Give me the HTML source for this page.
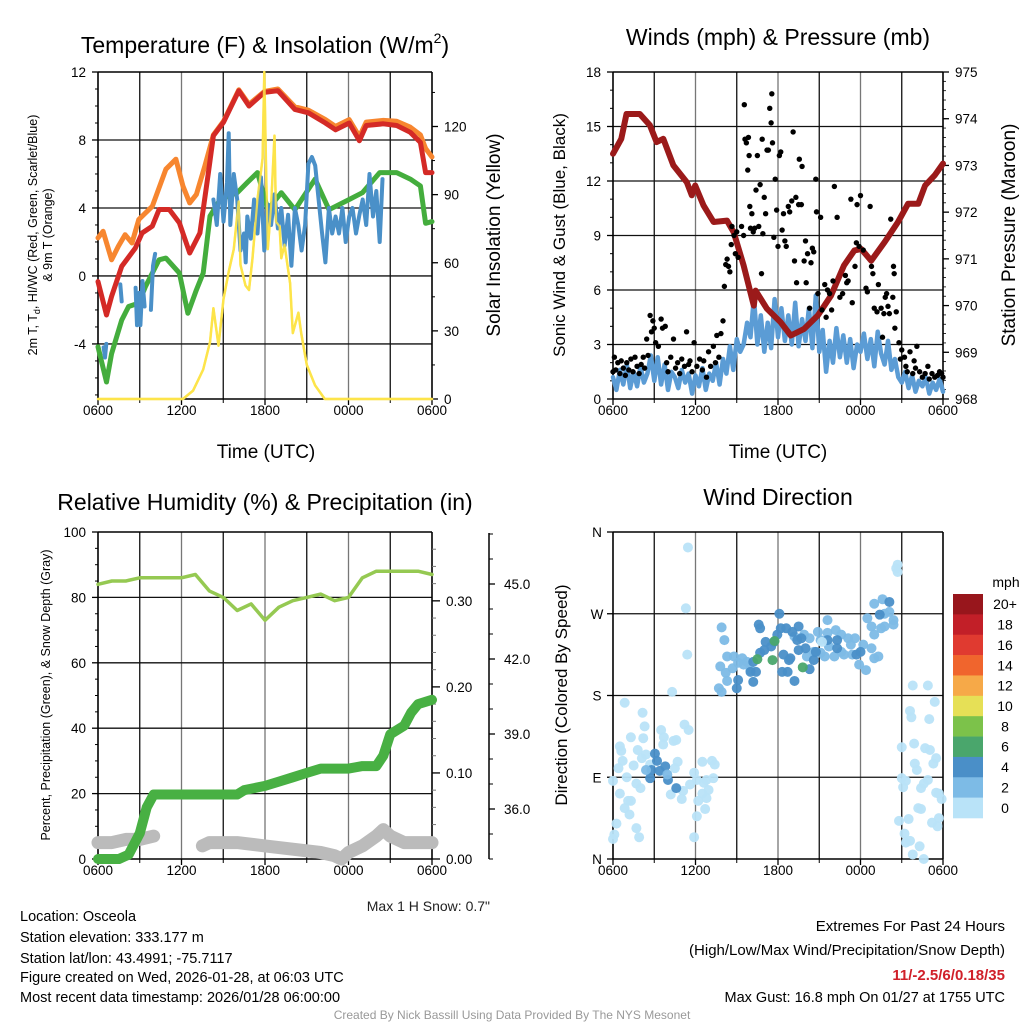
<!DOCTYPE html>
<html><head><meta charset="utf-8">
<style>
html,body{margin:0;padding:0;background:#fff;}
svg{display:block;font-family:"Liberation Sans",Arial,sans-serif;}
</style></head>
<body>
<svg id="c" width="1024" height="1024" viewBox="0 0 1024 1024" xmlns="http://www.w3.org/2000/svg"></svg>
<script>
// ---------- DATA ----------
const xTickLabels = ["0600","1200","1800","0000","0600"];
// Panel 1: temperature (F) vs hours since 0600
const redT = [0,0.61,0.98,1.7,2.68,3.17,3.9,4.39,5.12,5.85,6.59,7.32,7.93,8.29,9.02,10.12,10.85,11.95,12.93,14.15,15.12,16.34,17.07,18.05,18.78,19.27,20.5,21.46,22.44,23.17,23.54,24];
const redV = [-0.33,-2.3,-1.2,0.56,1.64,2.53,2.93,3.91,3.91,3.12,1.35,2.53,6.08,8.25,9.04,10.9,10.0,10.8,10.9,9.8,9.6,9.0,8.6,9.0,7.96,8.85,8.95,8.85,8.45,7.86,6.08,6.08];
const orangeT = [0,0.37,0.98,1.46,1.95,2.44,2.93,3.9,4.88,5.6,6.1,6.59,7.07,7.68,8.29,9.02,10.12,10.85,11.95,12.93,14.15,15.12,16.34,17.07,18.05,18.78,19.27,20.5,21.46,22.44,23.17,23.54,24];
const orangeV = [2.24,2.63,0.95,1.74,2.43,1.94,3.32,4.1,6.28,6.87,5.3,4.3,4.8,6.48,8.3,9.1,10.95,10.1,10.85,11.0,9.95,9.75,9.2,8.8,9.2,8.2,9.05,9.15,9.1,8.75,8.3,7.5,7.0];
const greenT = [0,0.61,0.98,1.7,2.2,2.93,3.41,4.39,4.88,5.85,6.46,7.07,7.56,8.05,8.78,10,10.73,11.46,12.2,13.17,14.15,15.12,15.6,16.6,18.05,19.0,20.24,21.46,22.44,23.17,23.54,24];
const greenV = [-4.17,-6.24,-4.57,-2.6,-1.8,-1.6,-0.62,0.95,1.05,0.17,-2.2,-0.82,0.17,3.52,4.5,4.9,5.5,6.08,3.91,4.9,3.9,5.1,5.7,3.9,4.5,4.9,6.08,6.08,5.7,5.3,3.1,3.2];
const blueT = [0.4,0.5,0.6,null,1.6,1.7,null,2.7,2.8,2.95,3.05,3.2,3.35,null,3.8,3.95,4.1,null,8.29,8.54,8.78,9.02,9.27,9.39,9.51,9.76,10.0,10.24,10.49,10.61,10.73,10.98,11.22,11.46,11.71,11.83,11.95,12.2,12.44,12.68,12.93,13.17,13.41,13.66,13.9,14.15,14.39,14.63,14.88,15.12,15.37,15.61,15.85,16.1,16.34,16.59,16.83,17.07,17.32,17.56,17.8,18.05,18.29,18.54,18.78,19.02,19.27,19.51,19.76,20.0,20.24,20.44];
const blueV = [-4.2,-4.8,-4.0,null,-0.5,-1.5,null,-0.7,-2.9,-1.0,-2.9,-0.3,-1.8,null,-2.0,0.6,1.3,null,4.5,3.0,6.0,3.2,5.5,8.4,3.0,6.0,4.5,1.5,2.5,0.8,3.5,2.2,4.5,2.5,5.8,3.6,1.5,4.2,3.0,4.8,2.8,4.0,1.8,3.6,0.6,4.0,3.0,1.5,3.0,6.6,7.0,6.5,4.5,2.5,0.8,4.0,2.5,3.5,2.5,4.0,2.0,3.5,4.0,2.5,3.6,4.5,3.0,6.0,3.5,5.0,2.0,5.7];
const solarT = [0,6.1,6.83,7.56,8.05,8.29,8.66,9.02,9.39,9.76,10.1,10.24,10.6,10.85,11.1,11.46,11.83,11.95,12.07,12.2,12.44,12.68,12.8,13.05,13.17,13.4,13.8,14.0,14.4,14.6,15.0,15.6,16.3,24];
const solarV = [0,0,3.7,13,25,40,23.5,44,56,66,87,59,50,48,62,88,106,144,103,66,85,116,78,76,62,68,51,29,38,29,15,6,0,0];
// Panel 2: winds (mph) & pressure (mb)
const presT = [0,0.6,0.98,1.95,2.68,3.17,3.66,4.39,5.37,5.73,5.98,6.59,7.32,8.29,8.78,9.5,10.24,10.37,11.2,12.2,12.93,13.9,14.9,15.85,16.8,17.56,18.05,18.78,19.76,20.73,21.46,22.2,22.7,23.4,24];
const presV = [973.25,973.57,974.1,974.1,973.86,973.5,973.57,973.0,972.64,972.36,972.57,972.14,971.79,971.82,971.57,970.86,970.0,970.32,969.93,969.64,969.36,969.5,969.79,970.21,970.86,971.18,971.21,970.96,971.36,971.79,972.18,972.18,972.57,972.79,973.04];
const sonicV = [1.2,0.5,1.6,0.8,1.9,0.6,1.5,0.7,1.8,0.9,1.4,2.4,1.0,
 2.3,0.8,1.9,0.5,1.5,1.2,0.6,1.6,0.9,1.4,0.3,1.3,
 0.7,1.7,0.5,1.4,1.0,2.0,0.8,2.2,1.4,2.9,1.6,3.3,
 2.6,3.0,4.2,3.4,5.6,3.0,4.6,2.6,4.2,2.8,5.5,3.4,
 5.0,3.2,4.6,3.0,5.3,2.9,4.4,3.2,5.0,2.8,5.7,2.6,
 3.8,1.5,3.2,2.0,3.9,2.3,3.5,2.0,3.3,1.7,3.0,2.6,
 3.6,2.2,3.3,1.8,3.7,2.5,1.9,3.2,1.6,2.2,1.2,0.9,
 1.5,0.6,1.3,0.4,1.0,0.7,1.2,0.3,0.9,0.5,1.1,0.4];
const sonicStep = 0.25;
const gustT = [0,0.1,0.2,0.35,0.5,0.6,0.75,0.9,1.0,1.15,1.3,1.45,1.6,1.75,1.9,2.05,2.2,2.3,2.45,2.55,2.7,2.8,2.9,3.0,3.1,3.3,3.5,3.6,3.8,3.9,4.0,4.2,4.4,4.55,4.7,4.85,5.0,5.2,5.35,5.5,5.6,5.75,5.9,6.1,6.3,6.5,6.6,6.8,6.95,7.1,7.3,7.45,7.55,7.7,7.85,8.0,8.1,8.2,8.3,8.4,8.5,8.6,8.65,8.8,8.9,9.0,9.1,9.35,9.5,9.55,9.6,9.7,9.8,9.85,9.9,9.95,10.0,10.1,10.2,10.3,10.4,10.5,10.6,10.7,10.8,10.85,10.9,11.0,11.1,11.2,11.3,11.4,11.5,11.55,11.6,11.7,11.8,11.9,12.0,12.1,12.2,12.3,12.4,12.5,12.6,12.75,12.85,13.0,13.1,13.2,13.3,13.35,13.5,13.55,13.7,13.75,13.9,14.0,14.05,14.15,14.3,14.4,14.5,14.6,14.75,14.8,14.9,15.1,15.2,15.4,15.5,15.6,15.75,15.9,16.0,16.1,16.3,16.5,16.7,16.9,17.0,17.1,17.3,17.4,17.6,17.7,17.75,17.9,18.0,18.2,18.4,18.5,18.7,18.8,18.9,19.0,19.2,19.3,19.5,19.6,19.7,19.8,19.9,20.0,20.1,20.2,20.35,20.4,20.45,20.5,20.6,20.8,20.9,21.0,21.2,21.3,21.4,21.6,21.8,21.9,22.0,22.1,22.3,22.5,22.7,22.9,23.0,23.2,23.4,23.6,23.75,23.9,24.0];
const gustV = [1.5,2.3,1.6,2.0,1.4,2.1,1.7,1.3,2.0,1.6,2.2,1.5,2.3,1.8,1.4,1.9,2.3,1.7,3.3,2.4,4.6,3.7,4.3,3.9,3.1,2.9,4.4,3.9,4.0,2.0,1.5,2.3,3.3,1.7,2.0,1.4,2.2,1.8,3.7,1.9,2.1,1.5,3.1,1.8,2.2,1.6,2.1,1.2,2.6,1.8,2.9,2.0,3.5,2.3,3.6,4.3,6.2,7.4,7.7,7.3,7.0,8.5,9.5,9.0,8.0,9.2,7.8,9.5,9.0,16.2,14.3,14.1,12.6,14.4,13.4,10.6,9.4,10.2,9.2,9.4,11.5,13.4,9.5,11.8,6.9,14.3,9.1,11.1,10.2,13.7,13.7,16.0,15.2,16.8,14.1,8.9,12.1,10.4,8.4,13.4,13.6,9.3,10.2,8.7,8.4,10.6,10.3,10.9,14.7,7.6,11.1,6.4,10.7,13.2,10.7,12.8,7.6,8.7,6.4,8.0,5.0,7.5,8.3,8.1,12.1,10.3,5.8,10.0,4.9,6.3,4.5,6.0,5.8,4.9,6.5,11.7,10.0,5.6,5.8,6.8,6.4,6.5,11.0,5.3,7.3,8.6,10.7,8.4,11.2,8.2,6.1,5.9,10.6,7.3,6.9,5.0,4.8,6.3,5.0,3.4,4.7,5.6,5.8,5.1,4.7,9.9,5.6,7.3,6.9,3.9,4.8,3.1,2.2,2.7,2.3,1.8,1.5,2.6,1.4,2.1,1.7,2.9,1.5,1.2,1.4,1.8,1.1,1.4,1.2,1.3,1.5,1.4,1.2];
// Panel 3: RH, precip, snow depth
const rhV = [84,85,85,86,86,86,86,87,82,80,76,78,73,77,79,80,81,79,80,86,88,88,88,88,87];
const precipT = [0,1.5,2.2,3.0,3.5,4,10,10.5,12,13,14,15,16,18,19,20,20.5,21,22,22.5,23,24];
const precipV = [0,0,0.005,0.03,0.06,0.075,0.075,0.08,0.085,0.09,0.095,0.1,0.105,0.105,0.108,0.108,0.12,0.145,0.155,0.17,0.18,0.185];
const snowT = [0,1,2,3,4,null,7.5,8,10,12,14,16,17,17.5,18,19,20,20.5,21,22,23,24];
const snowV = [5,5,6,6,7,null,4,5,5,4,3,2,1,0,2,4,7,9,7,5,5,5];
// Panel 4: wind direction (deg) and speed (mph)
const dirH = [0.85,2.15,2.3,1.3,2.2,3.5,3.7,3.65,4.4,4.6,5.2,5.5,0.5,0.6,1.8,2.1,2.4,0.7,1.5,0.4,1.0,0,1.7,2.0,0.5,1.1,1.3,0.85,1.2,0.25,0.1,0,1.7,1.9,4.2,4.7,4.5,5.1,5.0,5.6,5.9,6.1,6.5,7.2,7.4,6.6,6.8,7.3,6.95,6.5,6.8,6.2,6.7,6.1,5.9,4.3,5.4,5.3,5.45,2.7,
 3.05,3.2,2.8,3.4,3.8,4.0,4.6,2.7,3.95,2.4,
 7.9,8.1,8.3,7.8,8.2,8.3,7.7,7.9,8.8,8.7,9.1,9.4,9.5,9.75,10.0,15.6,16.2,14.9,15.1,15.6,16.6,17.1,17.3,17.6,16.6,16.8,17.4,18.2,18.8,19.0,19.3,17.9,18.4,15.4,16.1,18.5,18.8,19.0,19.5,19.75,19.75,20.1,20.4,19.0,19.6,20.4,13.9,14.3,14.6,14.1,13.2,15.7,15.1,
 10.6,10.7,12.1,12.2,12.6,13.05,13.5,11.95,11.7,11.5,11.1,11.0,10.7,10.2,10.4,10.0,10.2,9.1,9.0,12.4,12.9,12.8,13.5,13.4,13.7,14.0,14.6,14.3,13.2,12.7,12.3,16.3,16.3,18.0,17.7,20.1,19.4,15.6,14.75,
 10.5,11.6,11.75,13.8,
 21.8,22.9,23.4,21.6,21.7,23.0,21.0,21.9,22.7,23.05,23.3,23.5,21.95,22.1,22.9,21.0,21.3,21.1,22.4,22.6,23.7,23.9,23.5,22.2,22.4,20.8,21.5,23.2,23.7,23.6,21.2,21.3,21.6,22.3,21.8,22.6,20.7,20.7,20.6,15.2];
const dirD = [172,161,146,134,133,142,134,126,130,131,148,142,124,119,120,111,115,108,103,100,90,86,83,78,72,64,64,56,49,39,27,22,34,24,71,107,100,75,66,82,95,87,107,108,104,84,87,89,76,72,67,64,55,47,24,184,225,276,343,104,
 116,108,98,97,102,87,78,89,93,98,
 255,241,223,212,205,196,188,184,223,210,216,221,214,217,208,263,252,250,241,249,247,243,236,243,228,225,225,236,232,221,223,214,208,223,223,265,256,247,254,256,270,272,263,281,286,258,247,243,228,223,245,234,227,
 258,254,270,254,254,250,256,247,239,234,239,230,227,217,206,206,195,197,188,225,221,219,230,241,243,232,219,209,196,206,206,241,232,228,225,283,269,241,228,
 220,219,240,211,
 191,191,173,163,156,154,123,127,122,120,105,111,105,98,87,89,86,79,78,83,72,66,73,56,55,42,44,40,45,36,28,18,20,14,5,0,324,316,320,239];
const dirS = [1,1,1,1,1,1,1,1,1,1,1,1,1,1,1,1,1,1,1,1,1,1,1,1,1,1,1,1,1,1,1,1,1,1,1,1,1,1,1,1,1,1,1,1,1,1,1,1,1,1,1,1,1,1,1,1,1,1,1,1,
 5,5,5,5,5,5,5,5,3,3,
 3,3,3,3,3,3,3,3,3,3,3,3,3,3,3,3,3,3,3,3,3,3,3,3,3,3,3,3,3,3,3,3,3,3,3,3,3,3,3,3,3,3,3,3,3,3,3,3,3,3,3,3,3,
 5,5,5,5,5,5,5,5,5,5,5,5,5,5,5,5,5,5,5,5,5,5,5,5,5,5,5,5,5,5,5,5,5,5,5,5,5,5,5,
 7,7,7,7,
 1,1,1,1,1,1,1,1,1,1,1,1,1,1,1,1,1,1,1,1,1,1,1,1,1,1,1,1,1,1,1,1,1,1,1,1,1,1,1,1];
const speedBins = ["0","2","4","6","8","10","12","14","16","18","20+"];
const speedColors = ["#b9e3f8","#7dbbe6","#4a8fc8","#4aa66c","#7cc24a","#e6e056","#f6a948","#f0652d","#e03a30","#c21f28","#98161c"];

// ---------- DRAWING ----------
const svg = document.getElementById('c');
const NS = "http://www.w3.org/2000/svg";
function el(tag, attrs, parent){const e=document.createElementNS(NS,tag);for(const k in attrs)e.setAttribute(k,attrs[k]);(parent||svg).appendChild(e);return e;}
function txt(s,x,y,size,opts,name){opts=opts||{};const t=el('text',{x:x,y:y,'font-size':size,fill:opts.fill||'#000','text-anchor':opts.anchor||'middle'});
 if(opts.rot){t.setAttribute('transform','rotate(-90 '+x+' '+y+')');}
 if(opts.weight)t.setAttribute('font-weight',opts.weight);
 t.textContent=s;
 
 
 return t;}
function ln(x1,y1,x2,y2,c,w,name){const l=el('line',{x1:x1,y1:y1,x2:x2,y2:y2,stroke:c,'stroke-width':w});
 
 
 return l;}
function scale(d0,d1,r0,r1){return v=>r0+(v-d0)/(d1-d0)*(r1-r0);}
function path(xs,ys,sx,sy,color,w,name,extra){let d='';let pen=false;
 for(let i=0;i<xs.length;i++){if(xs[i]===null||ys[i]===null){pen=false;continue;}
  d+=(pen?'L':'M')+sx(xs[i]).toFixed(1)+' '+sy(ys[i]).toFixed(1);pen=true;}
 const p=el('path',Object.assign({d:d,fill:'none',stroke:color,'stroke-width':w,'stroke-linejoin':'round','stroke-linecap':'round'},extra||{}));
 
 
 return p;}

function frame(x0,x1,y0,y1,yTicks,sy,pname){
 const g=el('g',{});
 
 
 const sx=scale(0,24,x0,x1);
 for(let h=3;h<24;h+=3){ln(sx(h),y0,sx(h),y1,(h%6===0)?'#777':'#111',1.3,'vertical-grid-line');}
 yTicks.forEach(v=>{const y=sy(v);if(y>y0+1&&y<y1-1)ln(x0,y,x1,y,'#111',1.3,'horizontal-grid-line');});
 ln(x0,y0,x1,y0,'#000',1.6,'plot-border');ln(x0,y1,x1,y1,'#000',1.6,'plot-border');
 ln(x0,y0,x0,y1,'#000',1.6,'plot-border');ln(x1,y0,x1,y1,'#000',1.6,'plot-border');
 for(let i=0;i<xTickLabels.length;i++){const x=sx(i*6);ln(x,y1,x,y1+6,'#000',1.3,'x-tick');
  txt(xTickLabels[i],x,y1+16,13.5,{}, 'x-tick-label');}
 for(let h=3;h<24;h+=6){ln(sx(h),y1,sx(h),y1+4,'#000',1,'x-minor-tick');}
 return sx;}

// ===== Panel 1 =====
(function(){
 const x0=98,x1=432,y0=72,y1=399;
 const sy=scale(12,-7.24,y0,y1), ss=scale(0,144,y1,y0);
 const yt=[12,8,4,0,-4];
 const sx=frame(x0,x1,y0,y1,yt,sy,'temperature-panel');
 yt.forEach(v=>{ln(x0-6,sy(v),x0,sy(v),'#000',1.3,'y-tick');txt(String(v),x0-12,sy(v)+5,13.5,{anchor:'end'},'y-tick-label');});
 for(let v=-7;v<=11;v++){if(v%4!==0)ln(x0-3,sy(v),x0,sy(v),'#000',1,'y-minor-tick');}
 [0,30,60,90,120].forEach(v=>{ln(x1,ss(v),x1+6,ss(v),'#000',1.3,'right-tick');txt(String(v),x1+12,ss(v)+5,13.5,{anchor:'start'},'right-tick-label');});
 for(let v=15;v<144;v+=30)ln(x1,ss(v),x1+3,ss(v),'#000',1,'right-minor-tick');
 path(solarT,solarV,sx,ss,'#fde44a',2.5,'solar-insolation-line');
 path(orangeT,orangeV,sx,sy,'#f7862f',5,'orange-9m-temp-line');
 path(greenT,greenV,sx,sy,'#44ad3d',5,'green-dewpoint-line');
 path(redT,redV,sx,sy,'#d42a26',5,'red-2m-temp-line');
 path(blueT,blueV,sx,sy,'#4a90c8',4,'blue-windchill-line');
 path(solarT,solarV,sx,ss,'#fde44a',2.2,'solar-insolation-line-top',{opacity:0.85});
 const t=txt('',265,53,23,{},'temperature-title');t.innerHTML='Temperature (F) &amp; Insolation (W/m<tspan font-size="14" dy="-10">2</tspan><tspan dy="10">)</tspan>';
 const l=txt('',37,235,12.5,{rot:true},'left-axis-title');l.innerHTML='2m T, T<tspan font-size="9" dy="3">d</tspan><tspan dy="-3">, HI/WC (Red, Green, Scarlet/Blue)</tspan>';
 txt('& 9m T (Orange)',52,235,12.5,{rot:true},'left-axis-title-line2');
 txt('Solar Insolation (Yellow)',500,235,19,{rot:true},'right-axis-title');
 txt('Time (UTC)',266,458,19,{},'x-axis-title');
})();

// ===== Panel 2 =====
(function(){
 const x0=613,x1=943,y0=72,y1=399;
 const sy=scale(0,18,y1,y0), sp=scale(968,975,y1,y0);
 const yt=[0,3,6,9,12,15,18];
 const sx=frame(x0,x1,y0,y1,yt,sy,'winds-panel');
 yt.forEach(v=>{ln(x0-6,sy(v),x0,sy(v),'#000',1.3,'y-tick');txt(String(v),x0-12,sy(v)+5,13.5,{anchor:'end'},'y-tick-label');});
 for(let v=1;v<18;v++){if(v%3!==0)ln(x0-3,sy(v),x0,sy(v),'#000',1,'y-minor-tick');}
 for(let v=968;v<=975;v++){ln(x1,sp(v),x1+6,sp(v),'#000',1.3,'right-tick');txt(String(v),x1+12,sp(v)+5,13.5,{anchor:'start'},'right-tick-label');}
 for(let v=968.2;v<975;v+=0.2){ln(x1,sp(v),x1+3,sp(v),'#000',0.8,'right-minor-tick');}
 const sT=sonicV.map((v,i)=>i*sonicStep);
 path(sT,sonicV,sx,sy,'#5b9cd5',4.5,'sonic-wind-line');
 path(presT,presV,sx,sp,'#9b1a1a',6,'pressure-line');
 for(let i=0;i<gustT.length;i++){const c=el('circle',{cx:sx(gustT[i]),cy:sy(gustV[i]),r:2.7,fill:'#000'});
  
  }
 txt('Winds (mph) & Pressure (mb)',778,45,23,{},'winds-title');
 txt('Sonic Wind & Gust (Blue, Black)',565,235,17,{rot:true},'left-axis-title');
 txt('Station Pressure (Maroon)',1015,235,19,{rot:true},'right-axis-title');
 txt('Time (UTC)',778,458,19,{},'x-axis-title');
})();

// ===== Panel 3 =====
(function(){
 const x0=98,x1=432,y0=532,y1=859;
 const sy=scale(0,100,y1,y0), spr=scale(0,0.38,y1,y0), s2=scale(36,45,809,584);
 const yt=[0,20,40,60,80,100];
 const sx=frame(x0,x1,y0,y1,yt,sy,'humidity-panel');
 yt.forEach(v=>{ln(x0-6,sy(v),x0,sy(v),'#000',1.3,'y-tick');txt(String(v),x0-12,sy(v)+5,13.5,{anchor:'end'},'y-tick-label');});
 for(let v=5;v<100;v+=5){if(v%20!==0)ln(x0-3,sy(v),x0,sy(v),'#000',1,'y-minor-tick');}
 [0,0.1,0.2,0.3].forEach(v=>{ln(x1,spr(v),x1+8,spr(v),'#000',1.3,'precip-tick');txt(v.toFixed(2),x1+14,spr(v)+5,13.5,{anchor:'start'},'precip-tick-label');});
 for(let v=0.02;v<0.38;v+=0.02){if(Math.abs(v*10-Math.round(v*10))>0.01)ln(x1,spr(v),x1+4,spr(v),'#777',1,'precip-minor-tick');}
 ln(489,533,489,859,'#000',1.5,'snow-axis-line');
 [36,39,42,45].forEach(v=>{ln(489,s2(v),495,s2(v),'#000',1.3,'snow-tick');txt(v.toFixed(1),504,s2(v)+5,13.5,{anchor:'start'},'snow-tick-label');});
 for(let v=34;v<=47;v++){if(v%3!==0)ln(489,s2(v),493,s2(v),'#000',1,'snow-minor-tick');}
 path(snowT,snowV,sx,sy,'#bbbbbb',13,'snow-depth-line');
 path(precipT,precipV,sx,spr,'#48b043',10,'precipitation-line');
 const rhT=rhV.map((v,i)=>i);
 path(rhT,rhV,sx,sy,'#95c952',3.5,'relative-humidity-line');
 txt('Relative Humidity (%) & Precipitation (in)',265,510,23,{},'humidity-title');
 txt('Percent, Precipitation (Green), & Snow Depth (Gray)',50,695,12.5,{rot:true},'left-axis-title');
 txt('Max 1 H Snow: 0.7"',490,911,14,{anchor:'end',fill:'#222'},'max-snow-note');
})();

// ===== Panel 4 =====
(function(){
 const x0=613,x1=943,y0=532,y1=859;
 const sy=scale(0,360,y1,y0);
 const yt=[0,90,180,270,360], yl=['N','E','S','W','N'];
 const sx=frame(x0,x1,y0,y1,yt,sy,'wind-direction-panel');
 yt.forEach((v,i)=>{ln(x0-6,sy(v),x0,sy(v),'#000',1.3,'y-tick');txt(yl[i],x0-16,sy(v)+5,13.5,{anchor:'middle'},'direction-tick-label');});
 function col(s){let i=Math.min(10,Math.floor(s/2));return speedColors[i];}
 for(let i=0;i<dirH.length;i++){const c=el('circle',{cx:sx(dirH[i]),cy:sy(dirD[i]),r:5,fill:col(dirS[i]),'fill-opacity':0.95});
  
  }
 txt('Wind Direction',778,505,23,{},'wind-direction-title');
 txt('Direction (Colored By Speed)',567,695,17,{rot:true},'left-axis-title');
 // colorbar
 const cb=el('g',{});
 
 
 const n=speedBins.length, top=594, bh=224/n;
 for(let i=0;i<n;i++){const idx=n-1-i;
  const r=el('rect',{x:953,y:top+i*bh,width:30,height:bh+0.3,fill:speedColors[idx]},cb);
  
  
  txt(speedBins[idx],1005,top+i*bh+bh/2+5,14,{},'colorbar-label');}
 txt('mph',1006,587,14,{},'colorbar-unit');
})();

// ===== Footer text =====
const leftInfo=['Location: Osceola','Station elevation: 333.177 m','Station lat/lon: 43.4991; -75.7117','Figure created on Wed, 2026-01-28, at 06:03 UTC','Most recent data timestamp: 2026/01/28 06:00:00'];
const leftY=[921,942,963,982,1002];
leftInfo.forEach((s,i)=>txt(s,20,leftY[i],14.5,{anchor:'start'},'station-info-line'));
txt('Extremes For Past 24 Hours',1005,931,15,{anchor:'end'},'extremes-title');
txt('(High/Low/Max Wind/Precipitation/Snow Depth)',1005,955,15,{anchor:'end'},'extremes-subtitle');
txt('11/-2.5/6/0.18/35',1005,980,15,{anchor:'end',fill:'#d0202a',weight:'bold'},'extremes-values');
txt('Max Gust: 16.8 mph On 01/27 at 1755 UTC',1005,1002,14.5,{anchor:'end'},'max-gust-note');
txt('Created By Nick Bassill Using Data Provided By The NYS Mesonet',512,1019,12,{fill:'#999'},'credit-footer');
</script>
</body></html>
